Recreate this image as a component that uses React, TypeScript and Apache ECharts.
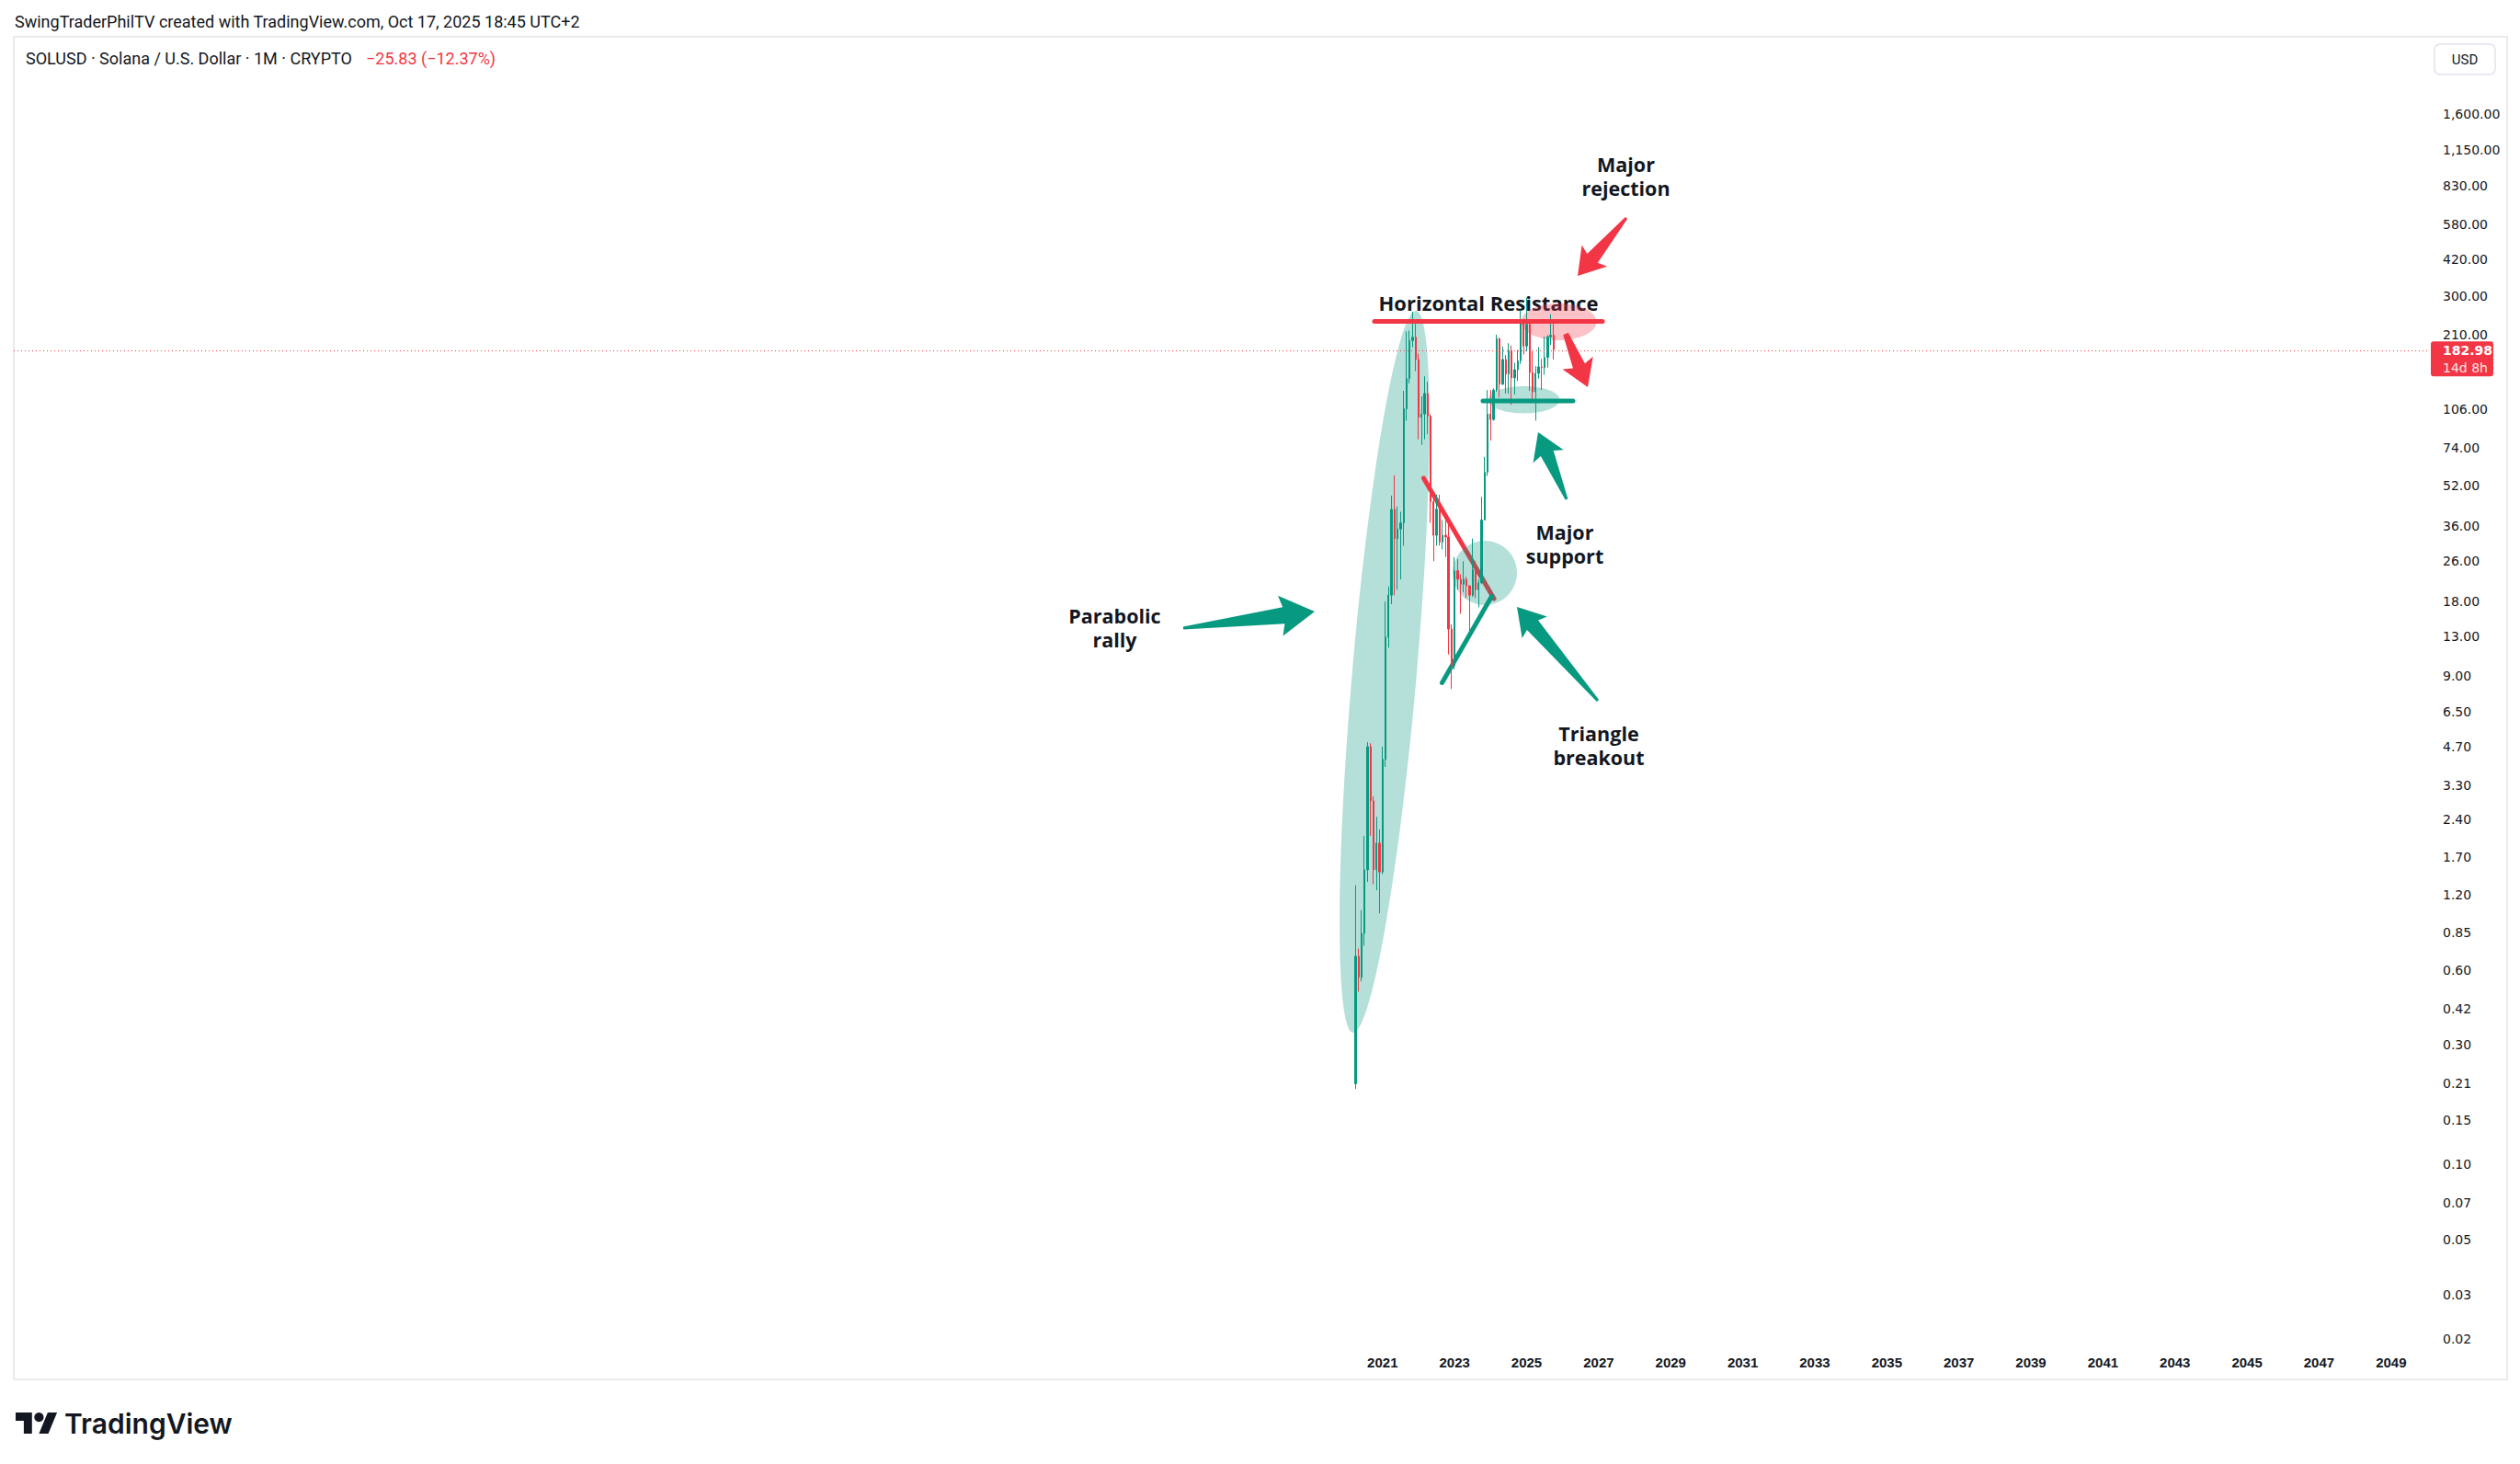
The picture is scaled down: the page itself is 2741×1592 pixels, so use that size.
import React, { useEffect, useRef } from 'react';
import * as echarts from 'echarts';

// ---------- data ----------
const barMonths = [
  '2020-04','2020-05','2020-06','2020-07','2020-08','2020-09','2020-10','2020-11','2020-12',
  '2021-01','2021-02','2021-03','2021-04','2021-05','2021-06','2021-07','2021-08','2021-09','2021-10','2021-11','2021-12',
  '2022-01','2022-02','2022-03','2022-04','2022-05','2022-06','2022-07','2022-08','2022-09','2022-10','2022-11','2022-12',
  '2023-01','2023-02','2023-03','2023-04','2023-05','2023-06','2023-07','2023-08','2023-09','2023-10','2023-11','2023-12',
  '2024-01','2024-02','2024-03','2024-04','2024-05','2024-06','2024-07','2024-08','2024-09','2024-10','2024-11','2024-12',
  '2025-01','2025-02','2025-03','2025-04','2025-05','2025-06','2025-07','2025-08','2025-09','2025-10',
];
const opens = [
  0.21, 0.68, 0.56, 0.84, 1.51, 4.70, 2.85, 1.51, 1.93,
  1.48, 4.18, 12.9, 19.0, 41.9, 32.0, 35.0, 37.0, 106, 140, 199, 205,
  167, 98, 101, 122, 99, 45, 33, 42, 31, 33, 32.5, 13.9,
  9.9, 23.8, 22, 21, 22, 20.7, 19, 24, 20, 21.3, 38, 59,
  101, 96, 126, 202, 133, 167, 146, 181, 141, 152, 165, 237,
  189, 231, 148, 124, 147, 156, 155, 170, 206, 208.81,
];
const highs = [
  1.31, 0.73, 1.04, 2.06, 4.90, 4.85, 2.97, 2.46, 2.19,
  4.70, 17.9, 20.6, 47.6, 57.4, 43.0, 41.0, 125, 216, 218, 259, 232,
  176, 119, 143, 136, 101, 48, 48, 48, 38, 38, 38, 14.5,
  27, 26.5, 23, 26, 22.5, 20.8, 32, 26, 22, 47, 68, 126,
  126, 128, 210, 205, 188, 174, 194, 190, 162, 182, 264, 243,
  295, 237, 180, 157, 187, 168, 206, 209, 253, 238,
];
const lows = [
  0.20, 0.49, 0.54, 0.75, 1.35, 2.06, 1.32, 1.25, 1.01,
  1.45, 3.9, 11.7, 17.5, 19.0, 20.0, 22.0, 30.0, 95, 134, 187, 150,
  80, 76, 80, 84, 37, 26, 30, 30, 29, 27, 11, 8.0,
  9.6, 20, 16, 19.5, 18.5, 13.5, 18.7, 18.5, 17, 21, 38, 57,
  79, 95, 124, 118, 132, 122, 122, 110, 121, 137, 160, 175,
  180, 125, 112, 95, 140, 126, 145, 155, 191, 167,
];
const closes = [
  0.68, 0.56, 0.84, 1.51, 4.70, 2.85, 1.51, 1.93, 1.48,
  4.18, 12.9, 19.0, 41.9, 32.0, 35.0, 37.0, 106, 140, 199, 205, 167,
  98, 101, 122, 99, 45, 33, 42, 31, 33, 32.5, 13.9, 9.9,
  23.8, 22, 21, 22, 20.7, 19, 24, 20, 21.3, 38, 59, 101,
  96, 126, 202, 133, 167, 146, 181, 141, 152, 165, 237, 189,
  231, 148, 124, 147, 156, 155, 170, 206, 208.81, 182.98,
];
const priceTicks = [
  1600, 1150, 830, 580, 420, 300, 210, 106, 74, 52, 36, 26, 18, 13, 9, 6.5, 4.7, 3.3,
  2.4, 1.7, 1.2, 0.85, 0.6, 0.42, 0.3, 0.21, 0.15, 0.1, 0.07, 0.05, 0.03, 0.02,
];
const lastPrice = 182.98;
const lastPriceCountdown = '14d 8h';
const firstLabelYear = 2021; // x = 0 at Jan of this year, ticks every 2 years
const xMinYears = -38;
const xMaxYears = 29;
const yMinLog = -1.7297;
const yMaxLog = 3.5152;

const headerText = 'SwingTraderPhilTV created with TradingView.com, Oct 17, 2025 18:45 UTC+2';
const legendText = 'SOLUSD · Solana / U.S. Dollar · 1M · CRYPTO';
const changeText = '\u221225.83 (\u221212.37%)';

// ---------- layout ----------
const W = 2741;
const H = 1592;
const GREEN = '#089981';
const RED = '#f23645';
const TEXT = '#131722';

echarts.graphic.registerShape(
  'tvLogo',
  echarts.graphic.extendPath('M14 22H7V11H0V4h14v18zM28 22h-8l7.5-18h8L28 22z', {})
);

function monthToX(m: string) {
  const [y, mo] = m.split('-').map(Number);
  return y - firstLabelYear + (mo - 1) / 12;
}

function fmtPrice(v: number) {
  return v.toLocaleString('en-US', { minimumFractionDigits: 2, maximumFractionDigits: 2 });
}

function arrowPts(
  T: number[], P: number[], headLen: number, headHalf: number, shaftHalf: number, tailHalf: number, sweep: number
) {
  const dx = P[0] - T[0];
  const dy = P[1] - T[1];
  const L = Math.hypot(dx, dy);
  const ux = dx / L, uy = dy / L;
  const nx = -uy, ny = ux;
  const jx = P[0] - ux * headLen, jy = P[1] - uy * headLen;
  const cx = jx - ux * sweep, cy = jy - uy * sweep;
  return [
    [T[0] + nx * tailHalf, T[1] + ny * tailHalf],
    [jx + nx * shaftHalf, jy + ny * shaftHalf],
    [cx + nx * headHalf, cy + ny * headHalf],
    [P[0], P[1]],
    [cx - nx * headHalf, cy - ny * headHalf],
    [jx - nx * shaftHalf, jy - ny * shaftHalf],
    [T[0] - nx * tailHalf, T[1] - ny * tailHalf],
  ];
}

const annoFont = 'bold 22px "Open Sans"';
const annoFontMulti = 'bold 21.5px "Open Sans"';

function buildGraphics() {
  const g: any[] = [];
  // pane border
  g.push({ type: 'rect', silent: true, z: 0, shape: { x: 15, y: 40, width: 2712, height: 1460 }, style: { fill: 'none', stroke: '#ebebeb', lineWidth: 2 } });
  // header & legend
  g.push({ type: 'text', silent: true, x: 16, y: 23, style: { text: headerText, fill: TEXT, font: '18px Roboto', verticalAlign: 'middle' } });
  g.push({ type: 'text', silent: true, x: 28, y: 63, style: { text: legendText, fill: TEXT, font: '18px Roboto', verticalAlign: 'middle' } });
  g.push({ type: 'text', silent: true, x: 398, y: 63, style: { text: changeText, fill: RED, font: '18px Roboto', verticalAlign: 'middle' } });
  // USD button
  g.push({ type: 'rect', silent: true, shape: { x: 2648, y: 48, width: 66, height: 33, r: 6 }, style: { fill: '#fff', stroke: '#e0e3eb', lineWidth: 1.5 } });
  g.push({ type: 'text', silent: true, x: 2681, y: 65, style: { text: 'USD', fill: TEXT, font: '15px Roboto', align: 'center', verticalAlign: 'middle' } });
  // logo
  g.push({ type: 'tvLogo', silent: true, x: 17, y: 1531, scaleX: 1.27, scaleY: 1.27, style: { fill: '#131722' } });
  g.push({ type: 'circle', silent: true, shape: { cx: 17 + 20 * 1.27, cy: 1531 + 8 * 1.27, r: 4 * 1.27 }, style: { fill: '#131722' } });
  g.push({ type: 'text', silent: true, x: 70, y: 1548, style: { text: 'TradingView', fill: '#131722', font: '600 30px Inter', verticalAlign: 'middle' } });

  // annotation fills (under candles)
  g.push({ type: 'ellipse', silent: true, z: 1, x: 1506, y: 730.5, rotation: -0.087, shape: { cx: 0, cy: 0, rx: 35, ry: 394 }, style: { fill: 'rgba(8,153,129,0.3)' } });
  g.push({ type: 'text', silent: true, z: 1, x: 1619, y: 329, style: { text: 'Horizontal Resistance', fill: TEXT, font: annoFont, align: 'center', verticalAlign: 'middle' } });
  g.push({ type: 'ellipse', silent: true, z: 1, shape: { cx: 1695.5, cy: 350, rx: 41, ry: 20 }, style: { fill: 'rgba(242,54,69,0.3)' } });
  g.push({ type: 'ellipse', silent: true, z: 1, shape: { cx: 1657.5, cy: 434.7, rx: 39, ry: 14.7 }, style: { fill: 'rgba(8,153,129,0.3)' } });
  g.push({ type: 'line', silent: true, z: 1, shape: { x1: 1548.5, y1: 520, x2: 1625, y2: 651 }, style: { stroke: RED, lineWidth: 5, lineCap: 'round' } });
  g.push({ type: 'line', silent: true, z: 1, shape: { x1: 1568.5, y1: 742.5, x2: 1622.5, y2: 648.5 }, style: { stroke: GREEN, lineWidth: 5, lineCap: 'round' } });
  g.push({ type: 'circle', silent: true, z: 1, shape: { cx: 1615, cy: 623, r: 35 }, style: { fill: 'rgba(8,153,129,0.3)' } });

  // lines over candles
  g.push({ type: 'line', silent: true, z: 10, shape: { x1: 1495, y1: 349.5, x2: 1743, y2: 349.5 }, style: { stroke: RED, lineWidth: 5, lineCap: 'round' } });
  g.push({ type: 'line', silent: true, z: 10, shape: { x1: 1613, y1: 436, x2: 1711, y2: 436 }, style: { stroke: GREEN, lineWidth: 5, lineCap: 'round' } });

  // texts
  const multi = (x: number, y: number, t: string) => ({
    type: 'text', silent: true, z: 10, x, y,
    style: { text: t, fill: TEXT, font: annoFontMulti, align: 'center', verticalAlign: 'middle', lineHeight: 26 },
  });
  g.push(multi(1768.5, 191, 'Major\nrejection'));
  g.push(multi(1702, 591, 'Major\nsupport'));
  g.push(multi(1212.5, 682, 'Parabolic\nrally'));
  g.push(multi(1739, 810.5, 'Triangle\nbreakout'));

  // arrows
  const arrow = (pts: number[][], color: string) => ({ type: 'polygon', silent: true, z: 11, shape: { points: pts }, style: { fill: color } });
  g.push(arrow(arrowPts([1287, 683], [1430, 665], 34, 22, 9, 1.5, 3.5), GREEN));
  g.push(arrow(arrowPts([1769, 237], [1716, 300], 25, 18, 7.5, 1.5, 3.5), RED));
  g.push(arrow(arrowPts([1703, 363], [1727, 421], 25, 18, 7, 3, 3.5), RED));
  g.push(arrow(arrowPts([1704, 543], [1673, 470], 25, 18, 7.5, 1.5, 3.5), GREEN));
  g.push(arrow(arrowPts([1738, 762], [1650, 660], 26, 18, 8, 1.5, 3.5), GREEN));
  return g;
}

export default function App() {
  const ref = useRef<HTMLDivElement>(null);
  useEffect(() => {
    if (!ref.current) return;
    const chart = echarts.init(ref.current, null, { renderer: 'svg' });

    const candleData = barMonths.map((m, i) => [
      monthToX(m),
      Math.log10(opens[i]),
      Math.log10(closes[i]),
      Math.log10(lows[i]),
      Math.log10(highs[i]),
    ]);
    const tickData = priceTicks.map((v) => [0, Math.log10(v)]);

    const option: any = {
      animation: false,
      backgroundColor: '#ffffff',
      grid: { left: 15, right: W - 2640, top: 40, bottom: H - 1464 },
      xAxis: {
        type: 'value',
        min: xMinYears,
        max: xMaxYears,
        interval: 2,
        axisLine: { show: false },
        axisTick: { show: false },
        splitLine: { show: false },
        axisLabel: {
          showMinLabel: false,
          showMaxLabel: false,
          margin: 10,
          color: TEXT,
          fontFamily: '"Liberation Sans"',
          fontWeight: 'bold',
          fontSize: 15,
          formatter: (v: number) => {
            const r = Math.round(v);
            return r >= 0 && r % 2 === 0 && r <= xMaxYears ? String(firstLabelYear + r) : '';
          },
        },
      },
      yAxis: {
        type: 'value',
        min: yMinLog,
        max: yMaxLog,
        show: false,
        splitLine: { show: false },
      },
      series: [
        {
          type: 'candlestick',
          silent: true,
          barWidth: 1.8,
          dimensions: ['t', 'open', 'close', 'low', 'high'],
          encode: { x: 't', y: ['open', 'close', 'low', 'high'] },
          data: candleData,
          itemStyle: { color: GREEN, color0: RED, borderColor: GREEN, borderColor0: RED, borderWidth: 1 },
          markLine: {
            silent: true,
            symbol: 'none',
            label: { show: false },
            lineStyle: { color: RED, type: [1, 3], width: 1 },
            data: [{ yAxis: Math.log10(lastPrice) }],
          },
          z: 2,
        },
        {
          type: 'custom',
          silent: true,
          clip: false,
          data: tickData,
          encode: { x: 0, y: 1 },
          renderItem: (params: any, api: any) => {
            const cs = params.coordSys;
            const y = api.coord([0, api.value(1)])[1];
            return {
              type: 'text',
              x: cs.x + cs.width + 17,
              y,
              style: { text: fmtPrice(priceTicks[params.dataIndex]), fill: TEXT, font: '14px "DejaVu Sans"', align: 'left', verticalAlign: 'middle' },
            };
          },
          z: 3,
        },
        {
          type: 'custom',
          silent: true,
          clip: false,
          data: [[0, Math.log10(lastPrice)]],
          encode: { x: 0, y: 1 },
          renderItem: (params: any, api: any) => {
            const cs = params.coordSys;
            const y = api.coord([0, api.value(1)])[1];
            const x0 = cs.x + cs.width;
            return {
              type: 'group',
              children: [
                { type: 'rect', shape: { x: x0 + 4, y: y - 9, width: 68, height: 38, r: 3 }, style: { fill: RED } },
                { type: 'text', x: x0 + 17, y: y + 1, style: { text: fmtPrice(lastPrice), fill: '#ffffff', font: 'bold 14px "DejaVu Sans"', align: 'left', verticalAlign: 'middle' } },
                { type: 'text', x: x0 + 17, y: y + 19.5, style: { text: lastPriceCountdown, fill: '#fde4e6', font: '14px "DejaVu Sans"', align: 'left', verticalAlign: 'middle' } },
              ],
            };
          },
          z: 4,
        },
      ],
      graphic: { elements: buildGraphics() },
    };
    chart.setOption(option);
    return () => chart.dispose();
  }, []);
  return <div ref={ref} style={{ position: 'absolute', left: 0, top: 0, width: W, height: H, background: '#fff' }} />;
}
